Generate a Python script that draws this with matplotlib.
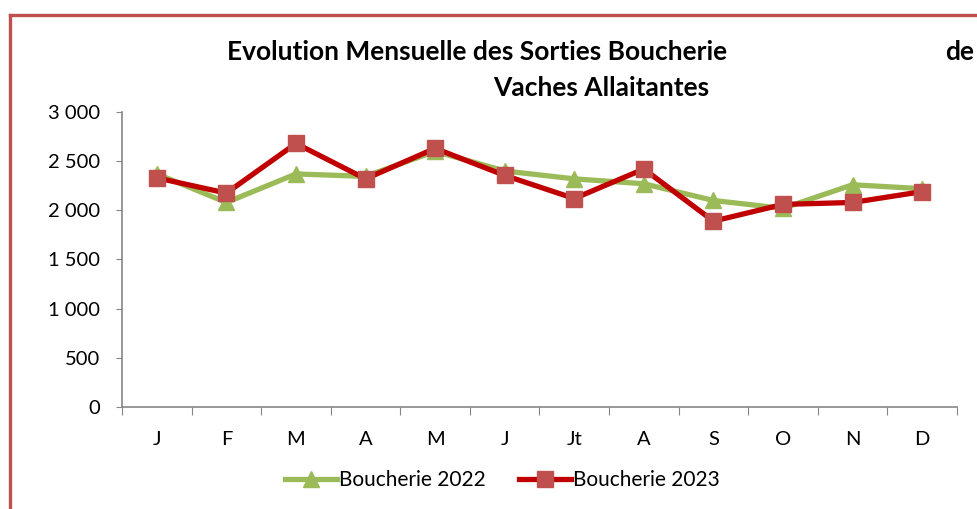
import matplotlib
matplotlib.use("Agg")
import matplotlib.pyplot as plt
from matplotlib.lines import Line2D
from matplotlib.ticker import FuncFormatter

plt.rcParams['font.family'] = ['Lato', 'DejaVu Sans']

# monthly values
months = ["J", "F", "M", "A", "M", "J", "Jt", "A", "S", "O", "N", "D"]
boucherie_2022 = [2370, 2080, 2370, 2345, 2600, 2400, 2320, 2270, 2100, 2020, 2260, 2220]
boucherie_2023 = [2330, 2175, 2680, 2320, 2630, 2355, 2120, 2420, 1890, 2060, 2080, 2190]

green = "#9BBB59"
red_line = "#C00000"
red_mark = "#C0504D"
grey = "#868686"

fig = plt.figure(figsize=(9.77, 5.09), dpi=100)
ax = fig.add_axes([0.1249, 0.2004, 0.8546, 0.5796])

pos = [i + 0.5 for i in range(len(months))]
ax.plot(pos, boucherie_2022, color=green, lw=3.8, marker="^", ms=12,
        mfc=green, mec=green, label="Boucherie 2022", zorder=3)
ax.plot(pos, boucherie_2023, color=red_line, lw=3.8, marker="s", ms=11.5,
        mfc=red_mark, mec=red_mark, label="Boucherie 2023", zorder=4)

ax.set_xlim(0, 12)
ax.set_ylim(0, 3000)
ax.set_yticks(range(0, 3001, 500))
ax.yaxis.set_major_formatter(FuncFormatter(lambda v, p: f"{int(v):,}".replace(",", " ")))
ax.set_xticks(range(0, 13))
ax.set_xticklabels([])
ax.set_xticks(pos, minor=True)
ax.set_xticklabels(months, minor=True)
ax.tick_params(axis="x", which="major", length=6, color=grey, direction="out")
ax.tick_params(axis="x", which="minor", length=0, pad=17, labelsize=14.5)
ax.tick_params(axis="y", length=4.5, color=grey, labelsize=14.5, pad=11)

for s in ["top", "right"]:
    ax.spines[s].set_visible(False)
for s in ["left", "bottom"]:
    ax.spines[s].set_color(grey)
    ax.spines[s].set_linewidth(1.2)

# title, split the way it appears
fig.text(0.488, 0.898, "Evolution Mensuelle des Sorties Boucherie", ha="center", va="center",
         fontsize=19, fontweight="bold")
fig.text(0.967, 0.898, "de", ha="left", va="center", fontsize=19, fontweight="bold")
fig.text(0.615, 0.827, "Vaches Allaitantes", ha="center", va="center",
         fontsize=19, fontweight="bold")

handles = [
    Line2D([], [], color=green, lw=3.8, marker="^", ms=12, mfc=green, mec=green),
    Line2D([], [], color=red_line, lw=3.8, marker="s", ms=11.5, mfc=red_mark, mec=red_mark),
]
fig.legend(handles, ["Boucherie 2022", "Boucherie 2023"], loc="center",
           bbox_to_anchor=(0.514, 0.057), ncol=2, frameon=False, fontsize=15,
           handlelength=2.5, handletextpad=0.1, columnspacing=1.6)

# red frame, only top and left edges visible in the crop
top = 1 - 15 / 509
left = 10 / 977
fig.add_artist(Line2D([left, 1.0], [top, top], color=red_mark, lw=2.4, transform=fig.transFigure))
fig.add_artist(Line2D([left, left], [0, top], color=red_mark, lw=2.4, transform=fig.transFigure))

fig.savefig("out.png", dpi=100)
